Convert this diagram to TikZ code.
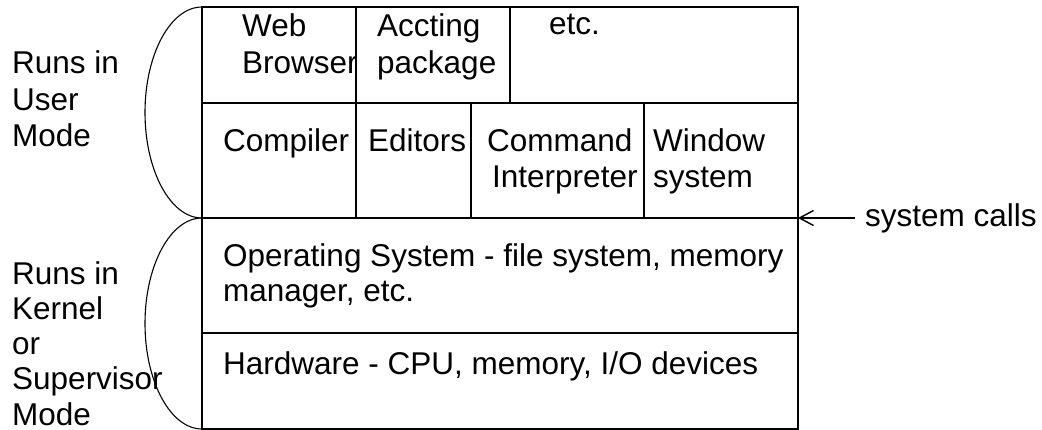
\documentclass[tikz,border=0pt]{standalone}
\usepackage{fontspec}
\setmainfont{Liberation Sans}
\usetikzlibrary{arrows.meta}
\begin{document}
\begin{tikzpicture}[x=1pt,y=1pt,
  lbl/.style={anchor=base west, inner sep=0pt, font=\fontsize{31.5}{36.5}\selectfont},
  frame/.style={line width=1.2pt, black},
  brace/.style={line width=1.1pt, black}]
\useasboundingbox (0,0) rectangle (1042,-430);
% grid
\coordinate (tl) at (202,-7);
\coordinate (br) at (798,-429);
\draw[frame] (tl) rectangle (br);
\draw[frame] (202,-103) -- (798,-103);
\draw[frame] (202,-218) -- (798,-218);
\draw[frame] (202,-333) -- (798,-333);
\draw[frame] (356,-7) -- (356,-218);
\draw[frame] (510,-7) -- (510,-103);
\draw[frame] (471,-103) -- (471,-218);
\draw[frame] (644,-103) -- (644,-218);
% braces
\draw[brace] (202,-7) arc[start angle=90, end angle=270, x radius=57, y radius=105.5];
\draw[brace] (202,-218) arc[start angle=90, end angle=270, x radius=57, y radius=105.5];
% left labels
\node[lbl] (runs1) at (12,-74) {Runs in};
\node[lbl] (user) at (12,-111) {User};
\node[lbl] (mode1) at (12,-147) {Mode};
\node[lbl] (runs2) at (12,-285) {Runs in};
\node[lbl] (kernel) at (12,-320) {Kernel};
\node[lbl] (or) at (12,-355) {or};
\node[lbl] (super) at (12,-390) {Supervisor};
\node[lbl, text depth=0pt] (mode2) at (12,-425) {Mode};
% cells
\node[lbl] (web) at (242,-37) {Web};
\node[lbl] (browser) at (242,-74) {Browser};
\node[lbl] (accting) at (377,-37) {Accting};
\node[lbl] (package) at (377,-74) {package};
\node[lbl] (etc) at (549,-35) {etc.};
\node[lbl] (compiler) at (223,-152) {Compiler};
\node[lbl] (editors) at (368,-152) {Editors};
\node[lbl] (command) at (487,-152) {Command};
\node[lbl] (interp) at (492,-188) {Interpreter};
\node[lbl] (window) at (653,-152) {Window};
\node[lbl] (wsystem) at (653,-188) {system};
\node[lbl] (os1) at (223,-267) {Operating System - file system, memory};
\node[lbl] (os2) at (223,-302) {manager, etc.};
\node[lbl] (hw) at (223,-375) {Hardware - CPU, memory, I/O devices};
% system calls
\node[lbl] (syscalls) at (865,-227) {system calls};
\coordinate (scstart) at (855,-218);
\coordinate (scend) at (798,-218);
\draw[line width=1.2pt, -{Straight Barb[length=14pt,width=15pt,line width=1.4pt]}] (scstart) -- (scend);
\end{tikzpicture}
\end{document}
